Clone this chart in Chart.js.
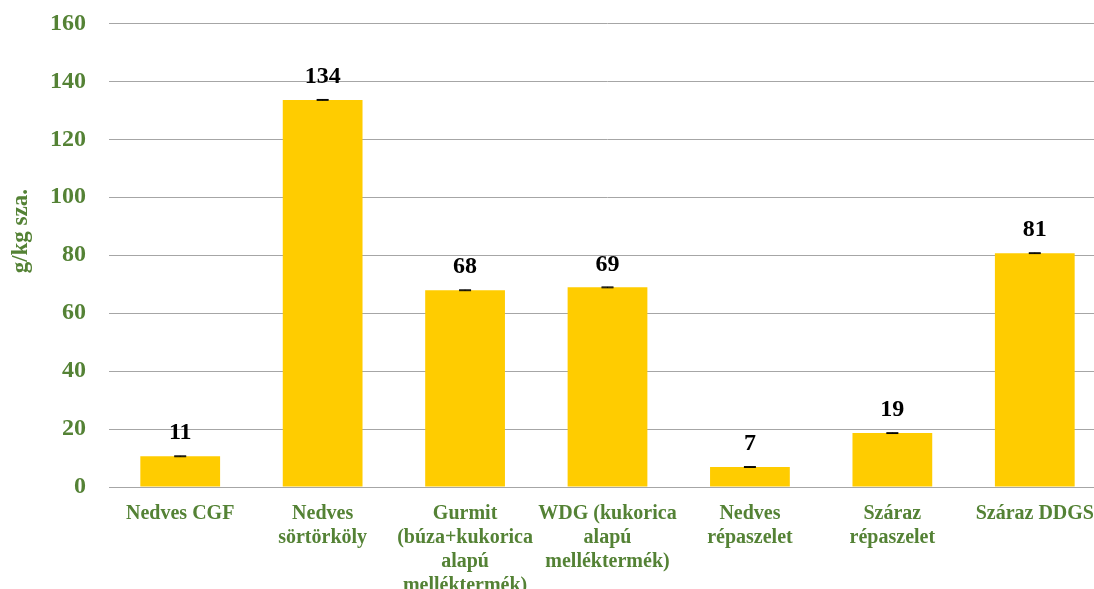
<!DOCTYPE html>
<html>
<head>
<meta charset="utf-8">
<script src="https://cdn.jsdelivr.net/npm/chart.js@4"></script>
<style>
  html, body { margin: 0; padding: 0; overflow: hidden; background: #fff; }
  #wrap { position: absolute; left: 0; top: -14px; width: 1110px; height: 619px; }
</style>
</head>
<body>
<div id="wrap"><canvas id="chart"></canvas></div>
<script>
const categories = [
  ['Nedves CGF'],
  ['Nedves', 'sörtörköly'],
  ['Gurmit', '(búza+kukorica', 'alapú', 'melléktermék)'],
  ['WDG (kukorica', 'alapú', 'melléktermék)'],
  ['Nedves', 'répaszelet'],
  ['Száraz', 'répaszelet'],
  ['Száraz DDGS']
]
const values = [10.6, 133.6, 67.9, 68.9, 6.9, 18.6, 80.7]
const errors = [0.15, 0.15, 0.15, 0.15, 0.15, 0.15, 0.15]
const yTicks = [0, 20, 40, 60, 80, 100, 120, 140, 160]
const yTitle = 'g/kg sza.'

const green = '#548235'
const serif = "'Liberation Serif', 'Times New Roman', serif"

// error caps and value labels drawn on top of the bars, plus the y title
const barExtras = {
  id: 'barExtras',
  afterDatasetsDraw(chart) {
    const { ctx, scales, chartArea } = chart
    const meta = chart.getDatasetMeta(0)
    ctx.save()
    meta.data.forEach((bar, i) => {
      const x = bar.x
      const yHi = scales.y.getPixelForValue(values[i] + errors[i])
      const yLo = scales.y.getPixelForValue(values[i] - errors[i])
      ctx.strokeStyle = '#000'
      ctx.lineWidth = 1
      ctx.beginPath()
      ctx.moveTo(x, yHi); ctx.lineTo(x, yLo)
      ctx.moveTo(x - 6, yHi); ctx.lineTo(x + 6, yHi)
      ctx.moveTo(x - 6, yLo); ctx.lineTo(x + 6, yLo)
      ctx.stroke()

      ctx.fillStyle = '#000'
      ctx.font = 'bold 24px ' + serif
      ctx.textAlign = 'center'
      ctx.textBaseline = 'bottom'
      ctx.fillText(String(Math.round(values[i])), x, bar.y - 11)
    })

    ctx.translate(21, (chartArea.top + chartArea.bottom) / 2 - 24)
    ctx.rotate(-Math.PI / 2)
    ctx.fillStyle = green
    ctx.font = 'bold 23px ' + serif
    ctx.textAlign = 'center'
    ctx.textBaseline = 'middle'
    ctx.fillText(yTitle, 0, 0)
    ctx.restore()
  }
}

new Chart(document.getElementById('chart'), {
  type: 'bar',
  data: {
    labels: categories,
    datasets: [{
      data: values,
      backgroundColor: '#FFCC00',
      borderWidth: 0,
      barPercentage: 0.56,
      categoryPercentage: 1
    }]
  },
  options: {
    responsive: true,
    maintainAspectRatio: false,
    animation: false,
    layout: { padding: { left: 27, right: 4, top: 9, bottom: 0 } },
    plugins: {
      legend: { display: false },
      tooltip: { enabled: false }
    },
    scales: {
      x: {
        grid: { display: false },
        border: { display: true, color: '#a6a6a6', width: 1 },
        ticks: {
          color: green,
          font: { family: serif, size: 20, weight: 'bold', lineHeight: 1.2 },
          padding: 7,
          maxRotation: 0,
          autoSkip: false
        }
      },
      y: {
        min: 0,
        max: 160,
        afterBuildTicks: (axis) => {
          axis.ticks = yTicks.map((v) => ({ value: v }))
        },
        grid: { color: '#a6a6a6', lineWidth: 1, drawTicks: false },
        border: { display: false },
        ticks: {
          color: green,
          font: { family: serif, size: 24, weight: 'bold' },
          padding: 23
        }
      }
    }
  },
  plugins: [barExtras]
})
</script>
</body>
</html>
